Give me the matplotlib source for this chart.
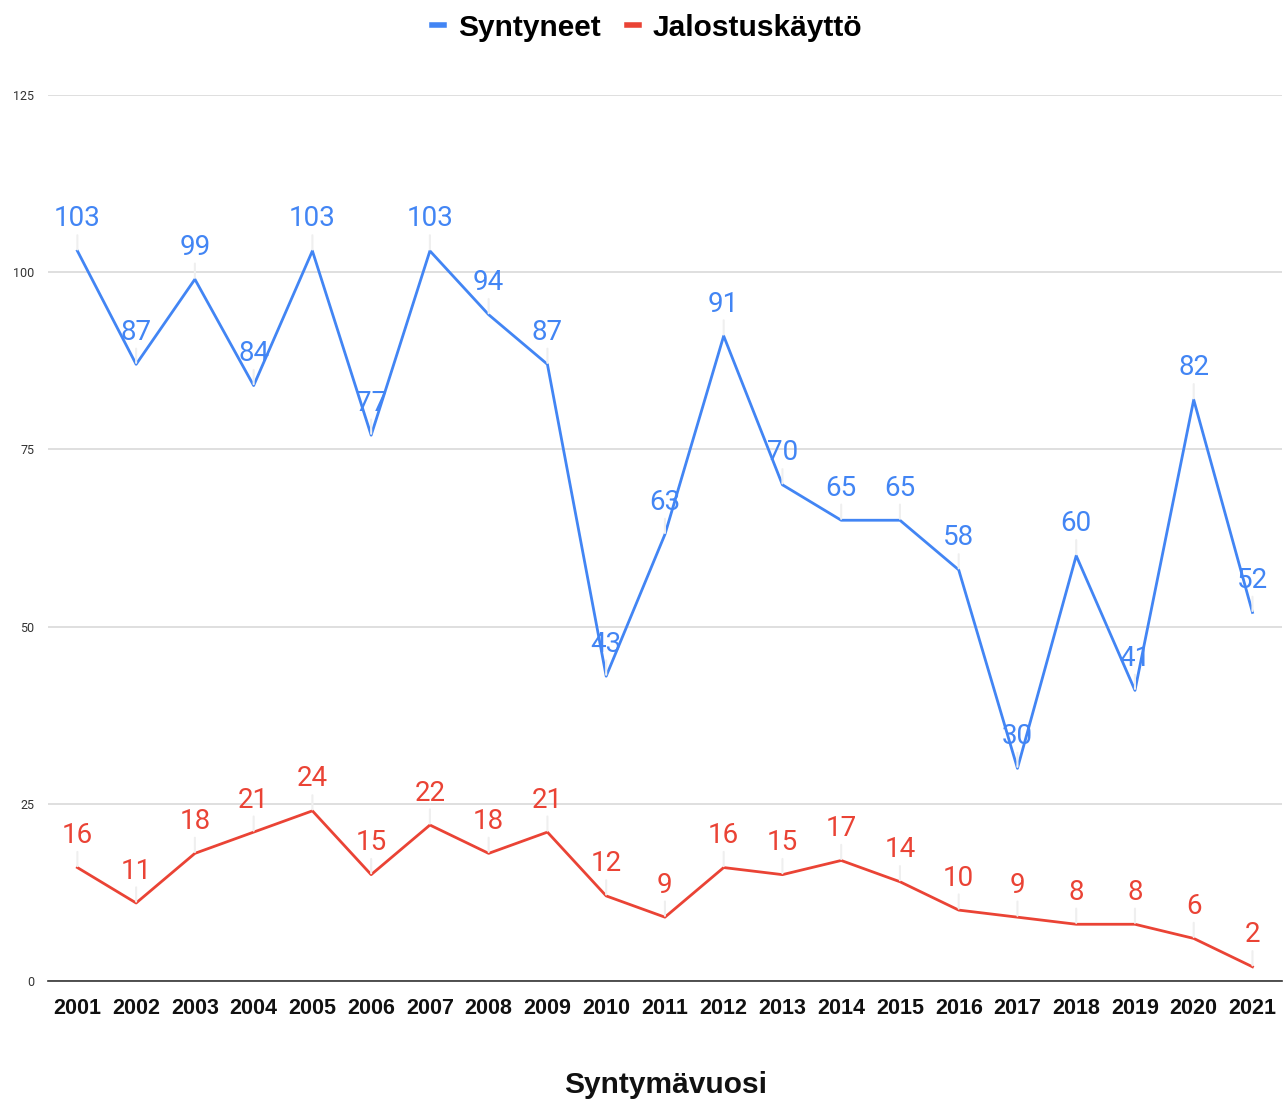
import matplotlib.pyplot as plt
from matplotlib.lines import Line2D

plt.rcParams['font.family'] = ['Roboto', 'DejaVu Sans']

years = list(range(2001, 2022))
syntyneet = [103, 87, 99, 84, 103, 77, 103, 94, 87, 43, 63, 91, 70, 65, 65, 58, 30, 60, 41, 82, 52]
jalostus = [16, 11, 18, 21, 24, 15, 22, 18, 21, 12, 9, 16, 15, 17, 14, 10, 9, 8, 8, 6, 2]
yticks = [0, 25, 50, 75, 100, 125]

blue = '#4285F4'
red = '#EA4335'

fig = plt.figure(figsize=(12.87, 10.99), dpi=100)
ax = fig.add_axes([0.0373, 0.1074, 0.9587, 0.8062])

for vals, col in [(syntyneet, blue), (jalostus, red)]:
    ax.plot(years, vals, color=col, linewidth=2, zorder=3)
    for x, v in zip(years, vals):
        ax.annotate(str(v), (x, v), xytext=(0, 23), textcoords='offset points',
                    ha='center', va='center', fontsize=20, color=col, zorder=4,
                    arrowprops=dict(arrowstyle='-', color='#efefef', lw=1.5,
                                    shrinkA=0, shrinkB=1))

ax.set_xlim(2000.5, 2021.5)
ax.set_ylim(0, 125)
ax.set_yticks(yticks)
ax.set_xticks(years)
ax.set_xticklabels([str(y) for y in years], fontsize=15.5, fontweight='bold',
                   family='Liberation Sans', color='#111111')
ax.tick_params(axis='y', length=0, labelsize=9, labelcolor='#333333', pad=10)
ax.tick_params(axis='x', length=0, pad=12)
ax.grid(axis='y', color='#d9d9d9', linewidth=1.2)
ax.set_axisbelow(True)
for s in ['top', 'right', 'left']:
    ax.spines[s].set_visible(False)
ax.spines['bottom'].set_color('#333333')
ax.spines['bottom'].set_linewidth(1.2)

fig.text(0.517, 0.0, 'Syntymävuosi', ha='center', va='bottom', fontsize=21.5,
         fontweight='bold', family='Liberation Sans', color='#111111')

handles = [Line2D([], [], color=blue, linewidth=4), Line2D([], [], color=red, linewidth=4)]
fig.legend(handles, ['Syntyneet', 'Jalostuskäyttö'], loc='upper center',
           bbox_to_anchor=(0.503, 1.012), ncol=2, frameon=False, handlelength=0.4,
           handletextpad=0.45, columnspacing=0.9,
           prop={'family': 'Liberation Sans', 'weight': 'bold', 'size': 21.5})

fig.savefig('out.png', dpi=100)
